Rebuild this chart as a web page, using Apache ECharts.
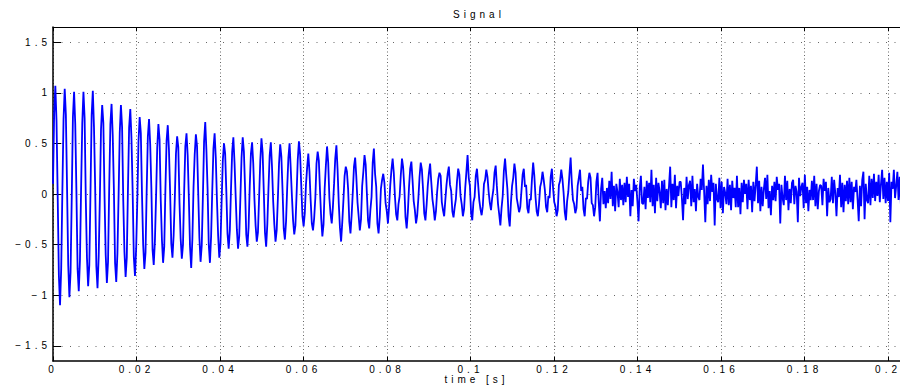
<!DOCTYPE html>
<html>
<head>
<meta charset="utf-8">
<script src="https://cdn.jsdelivr.net/npm/echarts@6/dist/echarts.min.js"></script>
<style>
html, body { margin: 0; padding: 0; background: #ffffff; }
#chart { width: 900px; height: 386px; }
#chart text { letter-spacing: 4px; }
</style>
</head>
<body>
<div id="chart"></div>
<script>
// ---- chart text ----
const chartTitle = 'Signal';
const xAxisName = 'time [s]';

// ---- tick positions ----
const xTicks = [0, 0.02, 0.04, 0.06, 0.08, 0.1, 0.12, 0.14, 0.16, 0.18, 0.2];
const yTicks = [-1.5, -1, -0.5, 0, 0.5, 1, 1.5];

// ---- signal samples (one sample every sampleStep seconds) ----
const sampleStep = 0.0002805;
const signal = [
  0.10, 0.80, 1.07, 0.72, -0.02, -0.80, -1.10, -0.74,
  0.03, 0.74, 1.04, 0.78, 0.06, -0.70, -1.02, -0.77,
  -0.04, 0.76, 1.01, 0.69, 0.02, -0.74, -0.96, -0.66,
  0.06, 0.70, 1.01, 0.75, -0.05, -0.63, -0.91, -0.70,
  0.01, 0.78, 1.02, 0.66, 0.07, -0.71, -0.93, -0.62,
  -0.05, 0.64, 0.88, 0.70, -0.02, -0.60, -0.88, -0.67,
  0.07, 0.69, 0.89, 0.58, 0.04, -0.68, -0.87, -0.59,
  -0.02, 0.61, 0.88, 0.66, -0.07, -0.57, -0.82, -0.63,
  0.05, 0.66, 0.84, 0.55, 0.03, -0.62, -0.81, -0.54,
  -0.06, 0.52, 0.76, 0.60, -0.01, -0.50, -0.74, -0.58,
  0.04, 0.57, 0.74, 0.49, 0.06, -0.55, -0.70, -0.47,
  -0.03, 0.46, 0.69, 0.54, -0.06, -0.45, -0.68, -0.52,
  0.06, 0.53, 0.68, 0.44, 0.02, -0.49, -0.63, -0.41,
  -0.05, 0.40, 0.57, 0.46, -0.08, -0.44, -0.64, -0.50,
  0.03, 0.47, 0.60, 0.38, -0.04, -0.52, -0.73, -0.45,
  0.07, 0.39, 0.59, 0.47, 0.01, -0.43, -0.67, -0.51,
  -0.02, 0.52, 0.71, 0.43, 0.05, -0.50, -0.68, -0.42,
  0.04, 0.45, 0.60, 0.36, -0.06, -0.41, -0.63, -0.49,
  -0.07, 0.33, 0.50, 0.40, 0.03, -0.39, -0.54, -0.36,
  0.05, 0.42, 0.56, 0.31, -0.03, -0.35, -0.54, -0.42,
  -0.04, 0.36, 0.56, 0.42, 0.06, -0.40, -0.52, -0.33,
  0.08, 0.40, 0.51, 0.30, -0.05, -0.31, -0.47, -0.38,
  -0.03, 0.33, 0.55, 0.41, 0.02, -0.38, -0.52, -0.30,
  0.06, 0.38, 0.51, 0.27, -0.07, -0.30, -0.47, -0.36,
  -0.05, 0.30, 0.49, 0.37, 0.04, -0.34, -0.45, -0.27,
  0.07, 0.36, 0.50, 0.25, -0.02, -0.26, -0.40, -0.31,
  0.00, 0.34, 0.52, 0.39, 0.08, -0.22, -0.32, -0.19,
  0.09, 0.26, 0.40, 0.22, -0.06, -0.29, -0.36, -0.24,
  -0.04, 0.30, 0.42, 0.33, 0.03, -0.24, -0.42, -0.30,
  0.06, 0.28, 0.47, 0.31, -0.04, -0.20, -0.29, -0.13,
  0.10, 0.35, 0.48, 0.24, -0.09, -0.33, -0.47, -0.28,
  -0.06, 0.18, 0.27, 0.22, 0.05, -0.27, -0.39, -0.21,
  0.02, 0.27, 0.36, 0.17, -0.08, -0.22, -0.36, -0.25,
  0.08, 0.22, 0.385, 0.29, 0.01, -0.26, -0.34, -0.16,
  -0.03, 0.31, 0.45, 0.20, 0.07, -0.29, -0.39, -0.23,
  0.05, 0.14, 0.20, 0.11, -0.09, -0.17, -0.29, -0.12,
  0.09, 0.24, 0.35, 0.21, -0.03, -0.20, -0.26, -0.10,
  -0.02, 0.19, 0.35, 0.26, 0.06, -0.23, -0.34, -0.18,
  0.07, 0.25, 0.32, 0.14, -0.07, -0.16, -0.29, -0.21,
  -0.04, 0.17, 0.31, 0.24, 0.04, -0.19, -0.26, -0.11,
  0.08, 0.21, 0.30, 0.12, -0.05, -0.14, -0.26, -0.17,
  0.02, 0.15, 0.21, 0.18, -0.08, -0.16, -0.22, -0.06,
  0.09, 0.20, 0.27, 0.09, 0.03, -0.17, -0.23, -0.13,
  -0.05, 0.13, 0.25, 0.19, -0.02, -0.10, -0.22, -0.15,
  0.06, 0.22, 0.385, 0.16, 0.08, -0.19, -0.26, -0.08,
  -0.03, 0.18, 0.25, 0.10, -0.06, -0.15, -0.21, -0.12,
  0.10, 0.14, 0.24, 0.17, 0.02, -0.09, -0.16, -0.04,
  0.04, 0.21, 0.28, 0.08, -0.10, -0.20, -0.31, -0.14,
  -0.02, 0.23, 0.35, 0.19, 0.05, -0.22, -0.32, -0.09,
  0.08, 0.16, 0.30, 0.21, -0.04, -0.11, -0.18, -0.13,
  0.03, 0.19, 0.25, 0.07, 0.09, -0.14, -0.19, -0.05,
  -0.06, 0.15, 0.31, 0.18, -0.03, -0.17, -0.22, -0.10,
  0.07, 0.12, 0.22, 0.14, 0.04, -0.13, -0.18, -0.02,
  -0.04, 0.17, 0.25, 0.06, -0.08, -0.12, -0.22, -0.16,
  0.09, 0.13, 0.24, 0.15, 0.01, -0.18, -0.26, -0.07,
  0.02, 0.20, 0.36, 0.11, -0.06, -0.10, -0.19, -0.14,
  0.08, 0.16, 0.24, 0.03, 0.07, -0.15, -0.22, -0.04,
  -0.05, 0.12, 0.21, 0.16, -0.09, -0.11, -0.22, -0.13,
  0.12, 0.21, -0.08, -0.27, 0.05, 0.16, -0.10, 0.03,
  -0.14, 0.06, -0.09, 0.13, -0.05, 0.22, -0.12, 0.08,
  -0.17, 0.10, 0.02, -0.13, 0.15, -0.06, 0.09, -0.11,
  0.11, -0.08, 0.17, -0.03, 0.10, -0.22, 0.04, -0.12,
  0.15, 0.03, 0.09, -0.07, -0.27, 0.06, 0.18, -0.09,
  -0.10, 0.07, -0.15, 0.13, -0.04, 0.11, -0.08, 0.24,
  -0.12, 0.09, -0.19, 0.16, -0.07, 0.11, 0.02, -0.14,
  0.13, -0.09, 0.14, -0.16, 0.05, -0.11, 0.08, 0.27,
  -0.13, 0.10, -0.06, 0.19, -0.14, 0.08, -0.02, 0.12,
  0.12, -0.04, -0.26, 0.06, -0.10, 0.17, -0.05, 0.09,
  0.13, -0.12, 0.18, -0.08, 0.05, -0.17, 0.10, -0.03,
  -0.06, 0.15, 0.04, 0.29, 0.02, -0.28, 0.08, -0.10,
  0.14, -0.07, 0.19, 0.02, 0.11, -0.31, 0.10, -0.05,
  -0.08, 0.16, -0.14, 0.12, -0.19, 0.07, 0.01, -0.10,
  0.15, -0.11, 0.09, -0.16, 0.13, -0.04, 0.06, -0.13,
  0.18, -0.13, 0.06, -0.20, 0.11, -0.08, 0.14, 0.00,
  0.10, -0.15, 0.14, -0.06, 0.08, -0.18, 0.12, -0.07,
  0.09, 0.27, -0.09, 0.13, -0.17, 0.07, -0.12, 0.05,
  0.16, -0.05, 0.19, -0.14, 0.03, -0.21, 0.08, -0.06,
  0.12, -0.07, 0.17, 0.04, 0.10, -0.29, 0.09, -0.04,
  -0.11, 0.18, -0.06, 0.13, -0.16, 0.05, -0.09, 0.11,
  0.14, -0.10, 0.08, 0.02, -0.28, 0.16, -0.02, 0.07,
  0.11, -0.14, 0.19, -0.09, 0.07, -0.17, 0.04, -0.06,
  0.13, -0.06, 0.18, -0.12, 0.10, -0.15, 0.03, 0.09,
  0.08, -0.11, 0.15, 0.03, 0.12, -0.22, 0.06, -0.08,
  -0.05, 0.17, -0.09, 0.14, 0.01, -0.22, 0.06, -0.03,
  0.19, -0.13, 0.11, -0.18, 0.09, -0.07, 0.13, -0.10,
  0.16, -0.08, 0.12, -0.15, 0.07, 0.02, 0.14, -0.05,
  -0.27, 0.08, -0.12, 0.14, 0.22, -0.25, 0.10, -0.06,
  -0.09, 0.18, -0.11, 0.15, -0.04, 0.20, -0.07, 0.12,
  -0.02, 0.19, -0.08, 0.10, 0.24, -0.05, 0.16, -0.09,
  0.12, -0.07, 0.21, -0.28, 0.12, 0.05, 0.24, -0.04,
  0.08, 0.22, -0.06, 0.17, -0.10, 0.13, -0.03, 0.15
];

// ---- build series data ----
const seriesData = signal.map((v, i) => [i * sampleStep, v]);

const fontFamily = '"Liberation Sans", Arial, Helvetica, sans-serif';
const chart = echarts.init(document.getElementById('chart'), null, { renderer: 'svg' });

const option = {
  animation: false,
  backgroundColor: '#ffffff',
  title: {
    text: chartTitle,
    left: 479,
    top: 9,
    padding: 0,
    textAlign: 'center',
    textStyle: { fontFamily: fontFamily, fontSize: 10, fontWeight: 'normal', color: '#000' }
  },
  grid: { left: 53, right: 0, top: 27, bottom: 25, containLabel: false, outerBoundsMode: 'none' },
  xAxis: [
    {
      type: 'value',
      position: 'bottom',
      min: 0,
      max: 0.20287,
      name: xAxisName,
      nameLocation: 'middle',
      nameGap: 13,
      nameMoveOverlap: false,
      nameTextStyle: { fontFamily: fontFamily, fontSize: 10, color: '#000', verticalAlign: 'top' },
      axisLine: { show: true, onZero: false, lineStyle: { color: '#000', width: 1.5 } },
      axisTick: { show: true, inside: true, length: 4, customValues: xTicks, lineStyle: { color: '#000', width: 1 } },
      axisLabel: {
        show: true, customValues: xTicks, margin: 3,
        fontFamily: fontFamily, fontSize: 10, color: '#000'
      },
      splitLine: { show: true, lineStyle: { color: '#666', width: 1, type: [1, 2.5] } }
    },
    {
      type: 'value',
      position: 'top',
      min: 0,
      max: 0.20287,
      axisLine: { show: true, onZero: false, lineStyle: { color: '#000', width: 1 } },
      axisTick: { show: true, inside: true, length: 4, customValues: xTicks, lineStyle: { color: '#000', width: 1 } },
      axisLabel: { show: false },
      splitLine: { show: false }
    }
  ],
  yAxis: {
    type: 'value',
    min: -1.65,
    max: 1.65,
    axisLine: { show: true, onZero: false, lineStyle: { color: '#000', width: 1.5 } },
    axisTick: { show: true, inside: true, length: 8, customValues: yTicks, lineStyle: { color: '#000', width: 1 } },
    axisLabel: {
      show: true, customValues: yTicks, margin: 2,
      fontFamily: fontFamily, fontSize: 10, color: '#000',
      formatter: function (v) { return String(v).replace('-', '\u2212'); }
    },
    splitLine: { show: true, lineStyle: { color: '#666', width: 1, type: [1, 7.5] } }
  },
  series: [
    {
      type: 'line',
      xAxisIndex: 0,
      data: seriesData,
      showSymbol: false,
      symbol: 'none',
      lineStyle: { color: '#0000ff', width: 1.8 },
      clip: true
    }
  ]
};
chart.setOption(option);
</script>
</body>
</html>
